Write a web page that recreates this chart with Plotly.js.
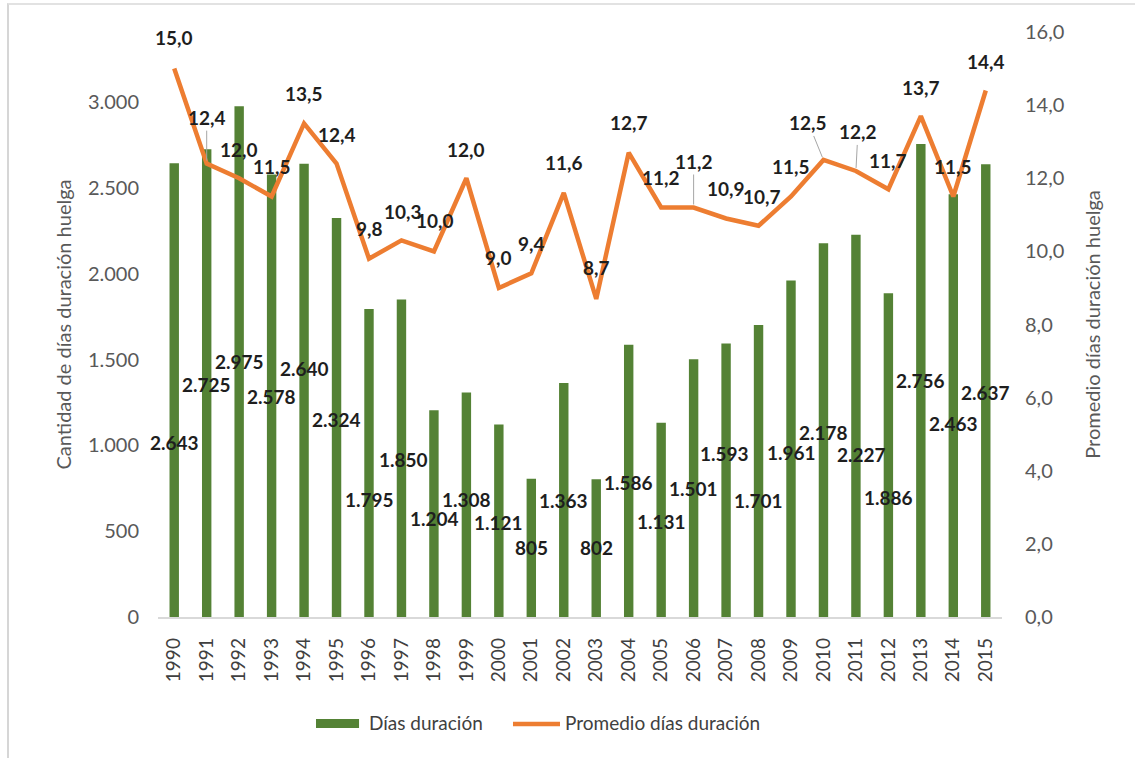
<!DOCTYPE html>
<html>
<head>
<meta charset="utf-8">
<script src="https://cdn.plot.ly/plotly-3.0.1.min.js"></script>
<style>
  html, body { margin: 0; padding: 0; background: #ffffff; }
  #wrap { position: relative; width: 1135px; height: 758px; overflow: hidden; }
  #frame { position: absolute; left: 7px; top: 3px; width: 1140px; height: 770px;
           border-left: 2px solid #d6d6d6; border-top: 2px solid #e2e2e2; pointer-events: none; }
  #chart { position: absolute; left: 0; top: 0; width: 1135px; height: 758px; }
</style>
</head>
<body>
<div id="wrap">
  <div id="chart"></div>
  <div id="frame"></div>
</div>
<script>
// ---- data ----
const years = ["1990","1991","1992","1993","1994","1995","1996","1997","1998","1999","2000","2001","2002",
               "2003","2004","2005","2006","2007","2008","2009","2010","2011","2012","2013","2014","2015"];
const diasDuracion = [2643,2725,2975,2578,2640,2324,1795,1850,1204,1308,1121,805,1363,
                      802,1586,1131,1501,1593,1701,1961,2178,2227,1886,2756,2463,2637];
const promedioDias = [15.0,12.4,12.0,11.5,13.5,12.4,9.8,10.3,10.0,12.0,9.0,9.4,11.6,
                      8.7,12.7,11.2,11.2,10.9,10.7,11.5,12.5,12.2,11.7,13.7,11.5,14.4];
const leftTicks = [0,500,1000,1500,2000,2500,3000];
const rightTicks = [0,2,4,6,8,10,12,14,16];

// ---- label placement (as dragged in the original) ----
const barLabelPos = [1014,1352,1486,1282,1445,1153,687,920,572,687,548,402,676,
                     402,781,559,746,955,676,961,1072,944,699,1375,1130,1305];
const barLabelDx = [0,0,0,0,0,0,0,2,1,0,0,0,0,0,0,0,0,-2,0,0,0,6,0,0,0,0];
const lineLabelDx = [0,0,0,0,0,0,0,2,1,0,0,0,0,0,0,0,0,0,3,0,-15,2,0,0,0,0];
const lineLabelDy = [-31,-46,-29,-30,-30,-29,-30,-29,-31,-29,-30,-30,-30,-31,-30,-30,-46,-30,-29,-30,-37,-39,-29,-29,-30,-29];
const lineLeader = [0,1,0,0,0,0,0,0,0,0,0,0,0,0,0,0,1,0,0,0,1,1,0,0,0,0];

const GREEN = '#548235';
const ORANGE = '#ED7D31';
const FONT = 'Lato, "Open Sans", sans-serif';

function fmtThousands(v) { return String(v).replace(/\B(?=(\d{3})+(?!\d))/g, '.'); }
function fmtDec(v) { return v.toFixed(1).replace('.', ','); }

const traces = [
  { type: 'bar', name: 'Días duración', x: years, y: diasDuracion, yaxis: 'y',
    marker: { color: GREEN }, width: 0.29, hoverinfo: 'x+y', showlegend: false },
  { type: 'scatter', mode: 'lines', name: 'Promedio días duración', x: years, y: promedioDias, yaxis: 'y2',
    line: { color: ORANGE, width: 4.5 }, hoverinfo: 'x+y', showlegend: false }
];

const annotations = [];
years.forEach((yr, i) => {
  annotations.push({
    x: i, y: barLabelPos[i], xref: 'x', yref: 'y', text: '<b>' + fmtThousands(diasDuracion[i]) + '</b>',
    showarrow: false, xshift: barLabelDx[i],
    font: { family: FONT, size: 19, color: '#1e1e1e' }
  });
  annotations.push({
    x: i, y: promedioDias[i], xref: 'x', yref: 'y2', text: '<b>' + fmtDec(promedioDias[i]) + '</b>',
    showarrow: true, ax: lineLabelDx[i], ay: lineLabelDy[i], axref: 'pixel', ayref: 'pixel',
    arrowhead: 0, arrowwidth: 1, standoff: 3,
    arrowcolor: lineLeader[i] ? '#a6a6a6' : 'rgba(0,0,0,0)',
    font: { family: FONT, size: 19, color: '#1e1e1e' }
  });
});

// custom legend (wide swatches as in the original)
annotations.push({ xref: 'paper', yref: 'paper', x: 0.2476, y: -0.1795, xanchor: 'left', yanchor: 'middle',
  text: 'Días duración', showarrow: false, font: { family: FONT, size: 19, color: '#404040' } });
annotations.push({ xref: 'paper', yref: 'paper', x: 0.4799, y: -0.1795, xanchor: 'left', yanchor: 'middle',
  text: 'Promedio días duración', showarrow: false, font: { family: FONT, size: 19, color: '#404040' } });

const shapes = [
  { type: 'rect', xref: 'paper', yref: 'paper', x0: 0.1872, x1: 0.2382, y0: -0.1897, y1: -0.1744,
    fillcolor: GREEN, line: { width: 0 } },
  { type: 'line', xref: 'paper', yref: 'paper', x0: 0.4206, x1: 0.4763, y0: -0.1829, y1: -0.1829,
    line: { color: ORANGE, width: 4.5 } }
];

const layout = {
  width: 1135, height: 758,
  margin: { l: 158, r: 133, t: 32, b: 141, pad: 0 },
  paper_bgcolor: '#ffffff', plot_bgcolor: '#ffffff',
  separators: ',.',
  font: { family: FONT, color: '#595959' },
  showlegend: false,
  bargap: 0.7,
  xaxis: {
    type: 'category', range: [-0.5, 25.5], tickangle: -90,
    showline: true, linecolor: '#d9d9d9', linewidth: 1.5,
    showgrid: false, zeroline: false, ticks: '', ticklabelstandoff: 12,
    tickfont: { family: FONT, size: 19, color: '#404040' }, fixedrange: true
  },
  yaxis: {
    range: [0, 3408], tickvals: leftTicks, tickformat: ',.0f',
    showgrid: false, zeroline: false, showline: false, ticks: '', ticklabelstandoff: 18,
    tickfont: { family: FONT, size: 20, color: '#595959' },
    title: { text: 'Cantidad de días duración huelga', standoff: 10,
             font: { family: FONT, size: 20, color: '#595959' } }
  },
  yaxis2: {
    overlaying: 'y', side: 'right', range: [0, 16], tickvals: rightTicks, tickformat: '.1f',
    showgrid: false, zeroline: false, showline: false, ticks: '', ticklabelstandoff: 22,
    tickfont: { family: FONT, size: 20, color: '#595959' },
    title: { text: 'Promedio días duración huelga', standoff: 22,
             font: { family: FONT, size: 20, color: '#595959' } }
  },
  annotations: annotations,
  shapes: shapes
};

Plotly.newPlot('chart', traces, layout, { displayModeBar: false, staticPlot: true });
</script>
</body>
</html>
